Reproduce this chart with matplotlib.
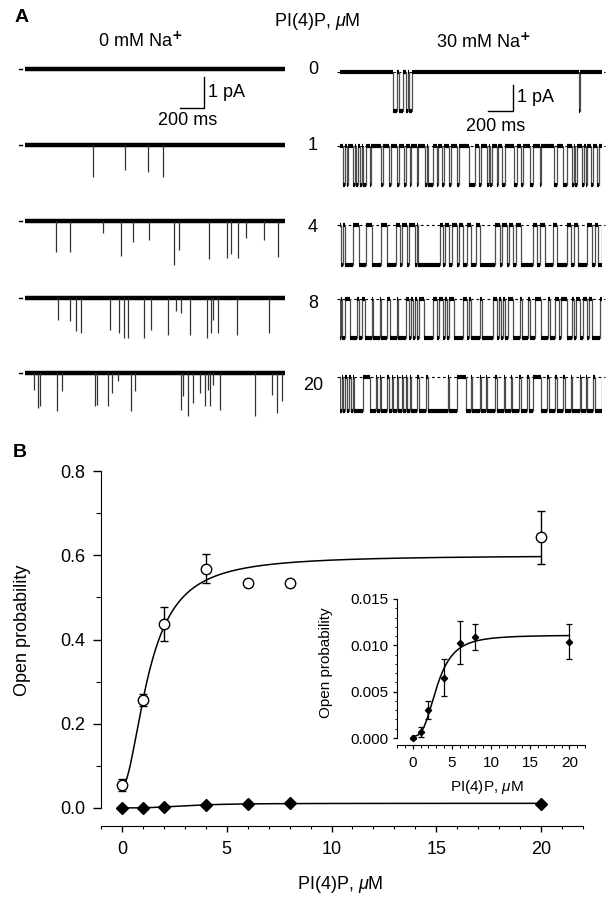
import numpy as np
import matplotlib
matplotlib.use("Agg")
import matplotlib.pyplot as plt
from matplotlib.ticker import MultipleLocator, FormatStrFormatter

plt.rcParams['font.family'] = ['Liberation Sans', 'DejaVu Sans']
plt.rcParams['mathtext.fontset'] = 'custom'
plt.rcParams['mathtext.rm'] = 'Liberation Sans'
plt.rcParams['mathtext.it'] = 'Liberation Sans:italic'

W, H = 614, 900

# ---------------- panel A data ----------------
conc = [0, 1, 4, 8, 20]          # PI(4)P, uM (one row each)
t_na0 = 2167                      # trace length, ms
t_na30 = 2095

# 0 mM Na+: brief openings, time (ms) and amplitude (pA)
na0_times = [
    [],
    [567, 833, 1025, 1150],
    [255, 374, 650, 803, 901, 1032, 1243, 1286, 1537, 1684, 1717, 1772, 1841, 1994, 2108],
    [275, 379, 428, 467, 705, 787, 829, 862, 992, 1047, 1195, 1260, 1299, 1374, 1514,
     1553, 1570, 1612, 1765, 2033],
    [78, 106, 125, 264, 306, 583, 597, 694, 727, 777, 883, 917, 1300, 1319, 1356, 1397,
     1458, 1500, 1528, 1542, 1564, 1625, 1917, 2056, 2097, 2139],
]
na0_amps = [
    [],
    [1.03, 0.8, 0.87, 1.03],
    [1.0, 1.0, 0.39, 1.13, 0.68, 0.61, 1.42, 0.94, 1.23, 1.19, 1.06, 1.19, 0.55, 0.61, 1.16],
    [0.71, 0.74, 1.06, 1.13, 1.03, 1.13, 1.29, 1.29, 1.29, 1.03, 1.19, 0.42, 0.48, 1.19, 1.29,
     1.13, 0.71, 1.13, 1.19, 1.13],
    [0.55, 1.13, 1.06, 1.23, 0.58, 1.06, 1.03, 1.06, 0.65, 0.26, 1.23, 0.58, 1.19, 0.74, 1.39,
     0.97, 0.65, 1.06, 0.55, 1.06, 0.39, 1.19, 1.39, 0.71, 1.29, 0.9],
]

# 30 mM Na+: open intervals (ms) and open-level amplitude (pA)
na30_open = [
    [(422, 454), (470, 506), (528, 542), (554, 574), (1911, 1917)],
    [(27, 37), (53, 67), (101, 117), (128, 147), (160, 176), (187, 211), (240, 251), (325, 341),
     (395, 408), (459, 475), (512, 528), (560, 568), (613, 627), (680, 693), (704, 741),
     (773, 784), (816, 829), (869, 891), (939, 955), (1029, 1077), (1109, 1131), (1173, 1189),
     (1200, 1213), (1253, 1264), (1299, 1317), (1392, 1413), (1451, 1461), (1520, 1541),
     (1600, 1611), (1712, 1733), (1787, 1813), (1856, 1872), (1883, 1893), (1936, 1952),
     (1968, 1979), (2005, 2027), (2053, 2075)],
    [(5, 21), (43, 101), (149, 208), (256, 325), (379, 448), (480, 496), (539, 555), (603, 619),
     (627, 800), (821, 837), (875, 896), (933, 949), (987, 1013), (1045, 1088), (1120, 1243),
     (1280, 1296), (1333, 1349), (1387, 1408), (1445, 1547), (1579, 1600), (1640, 1707),
     (1733, 1813), (1845, 1872), (1907, 1973), (2013, 2040), (2067, 2093)],
    [(0, 5), (16, 37), (80, 139), (155, 176), (200, 253), (264, 320), (331, 379), (400, 453),
     (464, 528), (555, 571), (587, 603), (619, 635), (672, 741), (773, 789), (821, 843),
     (853, 875), (912, 981), (1013, 1029), (1045, 1120), (1133, 1221), (1253, 1275),
     (1285, 1301), (1323, 1344), (1387, 1440), (1453, 1507), (1520, 1560), (1605, 1667),
     (1680, 1723), (1749, 1765), (1813, 1853), (1872, 1888), (1920, 1941), (1973, 1989),
     (2013, 2080)],
    [(0, 13), (27, 40), (53, 75), (85, 101), (112, 187), (240, 288), (299, 320), (331, 379),
     (395, 413), (427, 453), (467, 493), (501, 528), (539, 560), (571, 619), (629, 688),
     (704, 867), (875, 933), (1008, 1045), (1056, 1120), (1131, 1168), (1179, 1240),
     (1253, 1312), (1323, 1365), (1376, 1435), (1445, 1499), (1509, 1547), (1605, 1653),
     (1669, 1720), (1733, 1787), (1803, 1845), (1856, 1920), (1931, 1968), (1979, 2027),
     (2037, 2093)],
]
na30_amp = [1.5, 1.5, 1.55, 1.5, 1.3]

scale_ms = 200
scale_pa = 1

# ---------------- panel B data ----------------
pip = [0, 1, 2, 4, 6, 8, 20]
po_na30 = [0.055, 0.256, 0.437, 0.568, 0.534, 0.533, 0.643]
err_na30 = [0.014, 0.014, 0.040, 0.035, 0.006, 0.006, 0.063]
po_na0 = [0.0000, 0.00065, 0.0030, 0.0065, 0.0103, 0.0109, 0.0104]
err_na0 = [0.0001, 0.0005, 0.0010, 0.0020, 0.0023, 0.0014, 0.0019]

# Hill fits: y0, ymax, K (uM), n
fit_na30 = (0.05, 0.60, 1.31, 1.89)
fit_na0 = (0.0002, 0.0111, 3.14, 2.94)


def hill(x, p):
    y0, ymax, k, n = p
    return y0 + (ymax - y0) * x**n / (x**n + k**n)


def px_axes(fig, x, y_top, w, h):
    return fig.add_axes([x / W, 1 - (y_top + h) / H, w / W, h / H])


fig = plt.figure(figsize=(W / 100, H / 100), dpi=100)

# ---------------- panel A ----------------
base_left = [69, 145, 221, 298, 373]
base_right = [72, 146, 225, 299, 377]
pa_left, pa_right = 31, 26   # px per pA

left_axes, right_axes = [], []
for i in range(len(conc)):
    # 0 mM Na+
    ax = px_axes(fig, 25, base_left[i] - 0.4 * pa_left, 260, 2.0 * pa_left)
    ax.set_xlim(0, t_na0)
    ax.set_ylim(-1.6, 0.4)
    ax.axis('off')
    ax.hlines(0, 0, t_na0, color='k', lw=3.2)
    for t, a in zip(na0_times[i], na0_amps[i]):
        ax.vlines(t, -a, 0, color='0.2', lw=0.9)
    ax.plot([-50, -25], [0, 0], color='k', lw=1, clip_on=False)
    left_axes.append(ax)

    # 30 mM Na+
    ax = px_axes(fig, 340, base_right[i] - 0.4 * pa_right, 262, 2.2 * pa_right)
    ax.set_xlim(0, t_na30)
    ax.set_ylim(-1.8, 0.4)
    ax.axis('off')
    amp = na30_amp[i]
    ax.plot([-25, t_na30 + 25], [0, 0], color='k', lw=0.8, ls=(0, (2.5, 2.5)),
            clip_on=False, zorder=1)
    xs, ys = [0], [0]
    closed, last = [], 0
    for a, b in na30_open[i]:
        xs += [a, a, b, b]
        ys += [0, -amp, -amp, 0]
        closed.append((last, a))
        last = b
    closed.append((last, t_na30))
    xs.append(t_na30)
    ys.append(0)
    ax.plot(xs, ys, color='0.3', lw=0.9, zorder=2)
    cs = [c for c in closed if c[1] > c[0]]
    ax.hlines(np.zeros(len(cs)), [c[0] for c in cs], [c[1] for c in cs],
              color='k', lw=3.0, zorder=3)
    op = na30_open[i]
    ax.hlines(np.full(len(op), -amp), [o[0] for o in op], [o[1] for o in op],
              color='k', lw=3.0, zorder=3)
    right_axes.append(ax)

# scale bars
for ax, x0, y0, fs in [(left_axes[0], 1292, -1.26, -1.65), (right_axes[0], 1184, -1.5, -2.08)]:
    ax.plot([x0, x0 + scale_ms, x0 + scale_ms], [y0, y0, y0 + scale_pa], color='k', lw=1,
            clip_on=False)
    ax.text(x0 + scale_ms + 35, y0 + scale_pa / 2, f'{scale_pa} pA', fontsize=13,
            ha='left', va='center')
    ax.text(x0 + scale_ms * 0.3, fs, f'{scale_ms} ms', fontsize=13, ha='center', va='center')

fig.text(21.5 / W, 1 - 17 / H, 'A', fontsize=14, fontweight='bold', ha='center', va='center')
fig.text(317 / W, 1 - 22 / H, r'PI(4)P, $\mathit{\mu}$M', fontsize=13, ha='center', va='center')
fig.text(140 / W, 1 - 41 / H, r'0 mM Na$^{\mathbf{+}}$', fontsize=13, ha='center', va='center')
fig.text(483 / W, 1 - 42 / H, r'30 mM Na$^{\mathbf{+}}$', fontsize=13, ha='center', va='center')
for c, y in zip(conc, [70, 145, 227, 303, 385]):
    fig.text(313 / W, 1 - y / H, str(c), fontsize=13, ha='center', va='center')

# ---------------- panel B ----------------
fig.text(19.6 / W, 1 - 453 / H, 'B', fontsize=14, fontweight='bold', ha='center', va='center')

ax = fig.add_axes([101 / W, 92 / H, 482 / W, 337 / H])
ax.set_xlim(-1, 22)
ax.set_ylim(0, 0.8)
for s in ['top', 'right']:
    ax.spines[s].set_visible(False)
ax.spines['bottom'].set_position(('outward', 13))
xf = np.linspace(0, 20, 300)
ax.plot(xf, hill(xf, fit_na30), color='k', lw=1.1, clip_on=False)
ax.plot(xf, hill(xf, fit_na0), color='k', lw=1.1, clip_on=False)
ax.errorbar(pip, po_na30, yerr=err_na30, fmt='o', ms=7.5, mfc='white', mec='k', mew=1,
            ecolor='k', elinewidth=1, capsize=3, capthick=1, clip_on=False, zorder=3)
ax.plot(pip, po_na0, 'D', ms=6.5, color='k', clip_on=False, zorder=3)
ax.set_xticks([0, 5, 10, 15, 20])
ax.xaxis.set_minor_locator(MultipleLocator(1))
ax.set_yticks([0, 0.2, 0.4, 0.6, 0.8])
ax.yaxis.set_minor_locator(MultipleLocator(0.1))
ax.yaxis.set_major_formatter(FormatStrFormatter('%.1f'))
ax.tick_params(axis='y', which='major', length=6, width=1, pad=5, labelsize=13)
ax.tick_params(axis='y', which='minor', length=3.5, width=0.8)
ax.tick_params(axis='x', which='major', length=4, width=1, pad=7, labelsize=13)
ax.tick_params(axis='x', which='minor', length=2.5, width=0.8)
ax.set_xlabel(r'PI(4)P, $\mathit{\mu}$M', fontsize=13)
ax.xaxis.set_label_coords(0.497, -0.196)
ax.set_ylabel('Open probability', fontsize=13)
ax.yaxis.set_label_coords(-0.145, 0.528)

# inset
ins = fig.add_axes([397 / W, 162 / H, 188 / W, 139 / H])
ins.set_xlim(-2, 22)
ins.set_ylim(0, 0.015)
for s in ['top', 'right']:
    ins.spines[s].set_visible(False)
ins.spines['bottom'].set_position(('outward', 5))
ins.plot(xf, hill(xf, fit_na0), color='k', lw=1.1, clip_on=False)
ins.errorbar(pip, po_na0, yerr=err_na0, fmt='D', ms=3.2, color='k', elinewidth=0.9,
             capsize=2, capthick=0.9, clip_on=False, zorder=3)
ins.set_xticks([0, 5, 10, 15, 20])
ins.xaxis.set_minor_locator(MultipleLocator(1))
ins.set_yticks([0, 0.005, 0.010, 0.015])
ins.yaxis.set_minor_locator(MultipleLocator(0.001))
ins.yaxis.set_major_formatter(FormatStrFormatter('%.3f'))
ins.tick_params(axis='both', which='major', length=3, width=0.9, labelsize=11)
ins.tick_params(axis='both', which='minor', length=1.8, width=0.7)
ins.tick_params(axis='y', which='major', pad=3)
ins.tick_params(axis='x', which='major', pad=5)
ins.set_xlabel(r'PI(4)P, $\mathit{\mu}$M', fontsize=11)
ins.xaxis.set_label_coords(0.479, -0.288)
ins.set_ylabel('Open probability', fontsize=11)
ins.yaxis.set_label_coords(-0.34, 0.54)

fig.savefig('out.png', dpi=100)
